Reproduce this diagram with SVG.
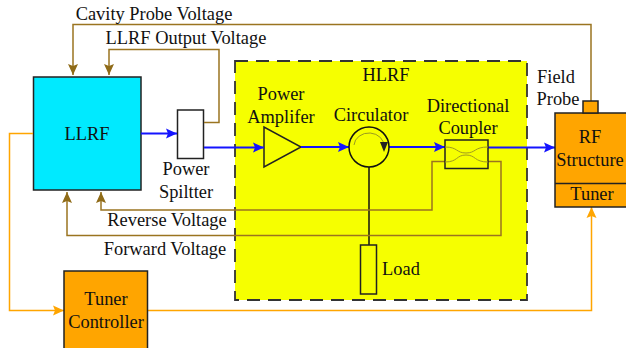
<svg xmlns="http://www.w3.org/2000/svg" width="626" height="348" viewBox="0 0 626 348">
<style>
text{font-family:"Liberation Serif","Times New Roman",serif;font-size:18.400px;fill:#111;text-anchor:middle}
.box{stroke:#222;stroke-width:1.5}
.br{fill:none;stroke:#9a7420;stroke-width:1.5}
.or{fill:none;stroke:#ffa500;stroke-width:1.5}
.bl{fill:none;stroke:#1414ff;stroke-width:1.8}
</style>
<defs>
<marker id="ab" markerUnits="userSpaceOnUse" markerWidth="12" markerHeight="12" refX="11" refY="5.500" orient="auto"><path d="M0 0.500L11 5.500L0 10.500L2 5.500Z" fill="#1414ff"/></marker>
<marker id="an" markerUnits="userSpaceOnUse" markerWidth="12" markerHeight="12" refX="11" refY="5.500" orient="auto"><path d="M0 0.500L11 5.500L0 10.500L2 5.500Z" fill="#8f6b18"/></marker>
<marker id="ao" markerUnits="userSpaceOnUse" markerWidth="12" markerHeight="12" refX="11" refY="5.500" orient="auto"><path d="M0 0.500L11 5.500L0 10.500L2 5.500Z" fill="#ffa500"/></marker>
</defs>
<g id="hlrf"><rect x="235" y="61" width="292" height="239" fill="#f6ff00" stroke="#333" stroke-width="1.8" stroke-dasharray="13 8"/><text x="386" y="81">HLRF</text></g>
<g id="llrf"><rect class="box" x="33.500" y="77" width="107.500" height="113" fill="#00eaff"/><text x="87" y="140">LLRF</text></g>
<g id="splitter"><rect class="box" x="177.500" y="110" width="26" height="48.500" fill="#fff"/><text x="186" y="175">Power</text><text x="186" y="198">Spiltter</text></g>
<g id="amplifier"><path class="box" d="M264 127V167L301 147Z" fill="#f6ff00"/><text x="281" y="100">Power</text><text x="281" y="123">Amplifer</text></g>
<g id="connectors">
<path class="bl" marker-end="url(#ab)" d="M141 133.500H177"/>
<path class="bl" marker-end="url(#ab)" d="M204 147.500H264"/>
<path class="bl" marker-end="url(#ab)" d="M301 147H349"/>
<path class="bl" marker-end="url(#ab)" d="M389 147H445"/>
<path class="bl" marker-end="url(#ab)" d="M488 147.500H555"/>
<path d="M369 167V245" fill="none" stroke="#111" stroke-width="1.500"/>
<path class="br" marker-end="url(#an)" d="M591 101V24.500H73V75"/>
<path class="br" marker-end="url(#an)" d="M204 122.500H219V49.500H109V75"/>
<path class="br" marker-end="url(#an)" d="M445 161.500H432V210H101V192"/>
<path class="br" marker-end="url(#an)" d="M488 161.500H501V235.500H67V192"/>
<path class="or" marker-end="url(#ao)" d="M33 133.500H9.500V310.500H64"/>
<path class="or" marker-end="url(#ao)" d="M147 310.500H591.500V207"/>
</g>
<g id="circulator"><circle cx="369" cy="147" r="20" fill="#f6ff00" stroke="#111" stroke-width="1.500"/><path d="M354 145A15 13 0 0 1 384 147" fill="none" stroke="#9a9a20" stroke-width="1"/><path d="M380 142L388 142L384 152Z" fill="#222"/><text x="371" y="121">Circulator</text></g>
<g id="coupler"><rect class="box" x="445" y="140" width="43" height="28.500" fill="#f6ff00"/><path d="M445 147C458 147 456 153 466 153C476 153 474 147 488 147M445 162C458 162 456 155 466 155C476 155 474 162 488 162" fill="none" stroke="#a09a20" stroke-width="1"/><text x="468" y="112">Directional</text><text x="468" y="134">Coupler</text></g>
<g id="load"><rect class="box" x="360.500" y="245" width="16" height="49" fill="#f6ff00"/><text x="401" y="275">Load</text></g>
<g id="rf-structure"><rect class="box" x="555" y="113" width="72" height="94" fill="#ffa500"/><path class="box" d="M555 183.500H627" fill="none"/><rect class="box" x="583" y="101" width="15" height="12" fill="#ffa500"/><text x="590" y="143">RF</text><text x="590" y="166">Structure</text><text x="592" y="200">Tuner</text><text x="556" y="83">Field</text><text x="558" y="105">Probe</text></g>
<g id="tuner-controller"><rect class="box" x="64" y="271" width="83.500" height="80" fill="#ffa500"/><text x="106" y="305">Tuner</text><text x="106" y="328">Controller</text></g>
<g id="labels">
<text x="154" y="20">Cavity Probe Voltage</text>
<text x="186" y="44">LLRF Output Voltage</text>
<text x="167" y="226">Reverse Voltage</text>
<text x="165" y="255">Forward Voltage</text>
</g>
</svg>
